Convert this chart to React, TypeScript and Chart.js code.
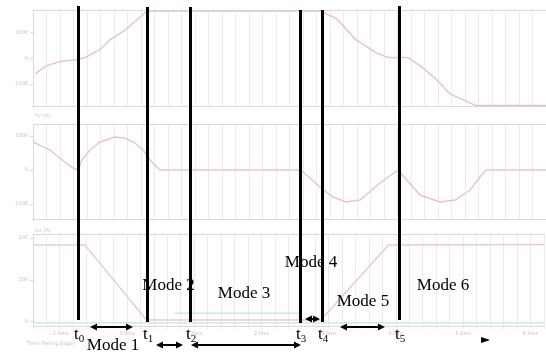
import React, { useEffect, useRef } from "react";
import { Chart, registerables } from "chart.js";
Chart.register(...registerables);

// ---------- data ----------
const timeMin = 0;
const timeMax = 38;

// panel 1 : clamp voltage
const vTime = [0.15, 0.89, 2.0, 3.33, 3.85, 4.96, 5.7, 6.81, 7.93, 8.44, 21.26, 22.44, 23.93, 25.41, 26.3, 27.78, 28.74, 29.85, 30.89, 32.81, 38];
const vValues = [-615, -308, -115, -38, 38, 346, 731, 1115, 1615, 1860, 1860, 1577, 731, 231, 38, 38, -308, -808, -1385, -1846, -1846];
const vTicks = [1000, 0, -1000];
const vTickLabels = ["1000", "0", "-1000"];

// panel 2 : resonant current
const iTime = [0, 1.26, 2.15, 2.96, 3.33, 3.63, 4.22, 4.96, 6.07, 6.81, 7.56, 8.15, 8.67, 9.41, 19.85, 21.26, 22.22, 23.19, 24.22, 25.7, 27.04, 28.67, 30.15, 31.26, 32.37, 33.11, 33.56, 38];
const iValues = [824, 588, 294, 59, 0, 294, 588, 824, 971, 941, 794, 588, 294, 0, 0, -500, -794, -941, -882, -382, 0, -735, -941, -882, -588, -206, 0, 0];
const iTicks = [1000, 0, -1000];
const iTickLabels = ["1000", "0", "-1000"];

// panel 3 : switch currents
const sTime = [0, 3.85, 8.44, 21.41, 26.44, 38];
const sValues = [184, 184, 5, 5, 184, 185];
const cTime = [10.52, 19.78];
const cValues = [21, 21];
const gTime = [0, 38];
const gValues = [-2, -2];
const sTicks = [200, 100, 0];
const sTickLabels = ["200", "100", "0"];

const xTickValues = [2, 7, 12, 17, 22, 27, 32, 37];
const xTickLabels = ["-1.0ms", "0.0ms", "1.0ms", "2.0ms", "3.0ms", "4.0ms", "5.0ms", "6.0ms"];

// switching instants
const eventTimes = [3.33, 8.44, 11.63, 19.78, 21.41, 27.11];
const eventSubs = ["0", "1", "2", "3", "4", "5"];

// modes
const modeNames = ["Mode 1", "Mode 2", "Mode 3", "Mode 4", "Mode 5", "Mode 6"];
const modeCenters = [5.93, 10.04, 15.63, 20.59, 24.44, 30.37];
const arrowFrom = [4.22, 9.11, 11.7, 20.15, 22.74];
const arrowTo = [7.41, 11.11, 19.85, 21.26, 26.07];
const markerTime = 33.19;

const panelTitles = ["ILr (A)", "ILs (A)", "Time (Falling Edge)"];

// ---------- layout / style ----------
const W = 546;
const H = 352;
const AXIS_W = 33;
const GRID = "#ebebeb";
const BORDER = "#d9d9d9";
const TICK_TXT = "#c0c0c0";
const PINK = "#e9c0e1";
const eventTop = [6, 7, 7, 10, 10, 6];
const eventBottom = [320, 322, 322, 323, 322, 320];
const modeBaseline = [350, 290, 298, 267, 306, 290];
const arrowY = [327, 345, 345, 319, 327];
const eventLabelBaseline = 339;
const markerY = 340;
const titlePos = [[35, 117], [35, 232], [27, 345]];

const toPts = (t: number[], v: number[]) => t.map((x, i) => ({ x, y: v[i] }));

const borderPlugin = {
  id: "panelBorder",
  beforeDatasetsDraw(chart: any) {
    const { ctx, chartArea } = chart;
    const { left, right, top, bottom } = chartArea;
    ctx.save();
    ctx.strokeStyle = BORDER;
    ctx.lineWidth = 1;
    ctx.beginPath();
    ctx.moveTo(left, Math.round(top) + 0.5);
    ctx.lineTo(right, Math.round(top) + 0.5);
    ctx.moveTo(left, Math.round(bottom) - 0.5);
    ctx.lineTo(right, Math.round(bottom) - 0.5);
    ctx.stroke();
    ctx.restore();
  },
};

function panelConfig(
  datasets: any[],
  yMin: number,
  yMax: number,
  yTicks: number[],
  yLabels: string[],
  padTop: number,
  padBottom: number,
  showX: boolean
): any {
  return {
    type: "line",
    data: { datasets },
    options: {
      responsive: false,
      animation: false,
      events: [],
      layout: { padding: { top: padTop, bottom: padBottom, left: 0, right: 0 } },
      plugins: { legend: { display: false }, tooltip: { enabled: false }, title: { display: false } },
      scales: {
        x: {
          type: "linear",
          min: timeMin,
          max: timeMax,
          afterFit: (s: any) => {
            s.height = showX ? 25 : 0;
          },
          border: { display: false },
          grid: { color: GRID, drawTicks: showX, tickLength: 2 },
          ticks: {
            display: showX,
            stepSize: 1,
            autoSkip: false,
            maxRotation: 0,
            padding: 2,
            color: TICK_TXT,
            font: { size: 5, family: "DejaVu Sans" },
            callback: (v: number) => {
              const i = xTickValues.indexOf(v);
              return i >= 0 ? xTickLabels[i] : "";
            },
          },
        },
        y: {
          type: "linear",
          min: yMin,
          max: yMax,
          afterBuildTicks: (s: any) => {
            s.ticks = yTicks.map((v) => ({ value: v }));
          },
          afterFit: (s: any) => {
            s.width = AXIS_W;
          },
          border: { display: true, color: BORDER },
          grid: { drawOnChartArea: false, drawTicks: true, tickLength: 3, color: BORDER },
          ticks: {
            padding: 2,
            color: TICK_TXT,
            font: { size: 5, family: "DejaVu Sans" },
            callback: (v: number) => {
              const i = yTicks.indexOf(v);
              return i >= 0 ? yLabels[i] : "";
            },
          },
        },
      },
    },
    plugins: [borderPlugin],
  };
}

const line = (pts: any[], color: string, w = 1.5) => ({
  data: pts,
  borderColor: color,
  borderWidth: w,
  pointRadius: 0,
  tension: 0,
  fill: false,
});

function drawArrowHead(ctx: CanvasRenderingContext2D, x: number, y: number, dir: number) {
  const L = 7;
  const hw = 3.5;
  ctx.beginPath();
  ctx.moveTo(x, y);
  ctx.lineTo(x - dir * L, y - hw);
  ctx.lineTo(x - dir * L, y + hw);
  ctx.closePath();
  ctx.fill();
}

const overlayPlugin = {
  id: "overlay",
  afterDraw(chart: any) {
    const { ctx } = chart;
    const xs = chart.scales.x;
    const px = (t: number) => xs.getPixelForValue(t);
    ctx.save();
    // faint panel titles
    ctx.fillStyle = "#c4c4c4";
    ctx.font = '5px "DejaVu Sans"';
    ctx.textAlign = "left";
    panelTitles.forEach((t, i) => ctx.fillText(t, titlePos[i][0], titlePos[i][1]));

    ctx.fillStyle = "#000";
    // mode labels
    ctx.font = '17px "Liberation Serif"';
    ctx.textAlign = "center";
    ctx.textBaseline = "alphabetic";
    modeNames.forEach((m, i) => ctx.fillText(m, px(modeCenters[i]), modeBaseline[i]));

    // event lines
    ctx.strokeStyle = "#000";
    ctx.lineWidth = 3;
    eventTimes.forEach((t, i) => {
      const x = Math.round(px(t)) + 0.5;
      ctx.beginPath();
      ctx.moveTo(x, eventTop[i]);
      ctx.lineTo(x, eventBottom[i]);
      ctx.stroke();
    });

    // event labels
    ctx.textAlign = "left";
    eventTimes.forEach((t, i) => {
      const x = px(t) - 4;
      ctx.font = '17px "Liberation Serif"';
      ctx.fillText("t", x, eventLabelBaseline);
      const w = ctx.measureText("t").width;
      ctx.font = '11px "Liberation Serif"';
      ctx.fillText(eventSubs[i], x + w, eventLabelBaseline + 3);
    });

    // arrows
    ctx.lineWidth = 2;
    arrowFrom.forEach((f, i) => {
      const x1 = px(f);
      const x2 = px(arrowTo[i]);
      const y = arrowY[i];
      ctx.beginPath();
      ctx.moveTo(x1 + 4, y);
      ctx.lineTo(x2 - 4, y);
      ctx.stroke();
      drawArrowHead(ctx, x1, y, -1);
      drawArrowHead(ctx, x2, y, 1);
    });
    // small marker triangle
    const mx = px(markerTime);
    ctx.beginPath();
    ctx.moveTo(mx, markerY - 3);
    ctx.lineTo(mx + 9, markerY);
    ctx.lineTo(mx, markerY + 3);
    ctx.closePath();
    ctx.fill();
    ctx.restore();
  },
};

export default function App() {
  const c1 = useRef<HTMLCanvasElement>(null);
  const c2 = useRef<HTMLCanvasElement>(null);
  const c3 = useRef<HTMLCanvasElement>(null);
  const c4 = useRef<HTMLCanvasElement>(null);

  useEffect(() => {
    const charts: Chart[] = [];
    charts.push(
      new Chart(
        c1.current!,
        panelConfig([line(toPts(vTime, vValues), PINK)], -1900, 1900, vTicks, vTickLabels, 10, 4, false)
      )
    );
    charts.push(
      new Chart(
        c2.current!,
        panelConfig([line(toPts(iTime, iValues), PINK)], -1470, 1353, iTicks, iTickLabels, 12, 8, false)
      )
    );
    charts.push(
      new Chart(
        c3.current!,
        panelConfig(
          [
            line(toPts(gTime, gValues), "#cdeed9"),
            line(toPts(cTime, cValues), "#c6e8f2"),
            line(toPts(sTime, sValues), "#ebc6e2"),
          ],
          -12,
          210,
          sTicks,
          sTickLabels,
          6,
          0,
          true
        )
      )
    );
    charts.push(
      new Chart(c4.current!, {
        type: "line",
        data: { datasets: [] },
        options: {
          responsive: false,
          animation: false,
          events: [],
          layout: { padding: { left: AXIS_W, right: 0, top: 0, bottom: 0 } },
          plugins: { legend: { display: false }, tooltip: { enabled: false } },
          scales: {
            x: { type: "linear", min: timeMin, max: timeMax, display: false },
            y: { type: "linear", min: 0, max: 1, display: false },
          },
        },
        plugins: [overlayPlugin],
      } as any)
    );
    return () => charts.forEach((c) => c.destroy());
  }, []);

  const abs = (top: number, h: number): React.CSSProperties => ({
    position: "absolute",
    left: 0,
    top,
    width: W,
    height: h,
    display: "block",
  });

  return (
    <div style={{ position: "fixed", left: 0, top: 0, width: W, height: H, background: "#fff", overflow: "hidden" }}>
      <canvas ref={c1} width={W} height={112} style={abs(0, 112)} />
      <canvas ref={c2} width={W} height={116} style={abs(112, 116)} />
      <canvas ref={c3} width={W} height={124} style={abs(228, 124)} />
      <canvas ref={c4} width={W} height={H} style={{ ...abs(0, H), pointerEvents: "none" }} />
    </div>
  );
}
